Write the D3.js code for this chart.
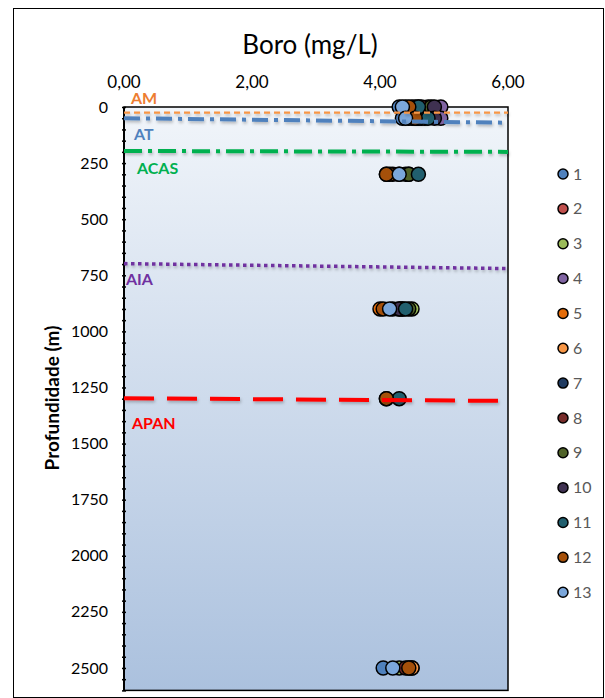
<!DOCTYPE html>
<html><head><meta charset="utf-8">
<script src="https://cdn.jsdelivr.net/npm/d3@7"></script>
<style>body{margin:0;background:#fff}svg{display:block}</style>
</head><body><svg id="c" width="605" height="698"></svg>
<script>
// ---- data ----
const depths = [0, 50, 300, 900, 1300, 2500];
const seriesNames = ["1","2","3","4","5","6","7","8","9","10","11","12","13"];
const s1  = [4.30, 4.35, 4.30, 4.20, null, 4.05];
const s2  = [4.55, 4.60, 4.20, 4.35, null, 4.45];
const s3  = [4.60, 4.65, 4.45, 4.50, null, 4.30];
const s4  = [4.95, 4.95, null, null, null, null];
const s5  = [4.50, 4.50, 4.15, 4.00, 4.10, 4.50];
const s6  = [4.75, 4.70, null, null, null, 4.50];
const s7  = [4.40, 4.45, 4.40, 4.30, null, null];
const s8  = [4.65, 4.55, 4.10, 4.35, null, 4.40];
const s9  = [4.80, 4.60, 4.45, 4.45, null, null];
const s10 = [4.85, 4.85, null, 4.30, null, null];
const s11 = [4.60, 4.75, 4.60, 4.40, 4.30, null];
const s12 = [4.45, 4.55, 4.10, 4.05, 4.10, 4.45];
const s13 = [4.35, 4.40, 4.30, 4.15, null, 4.20];
const seriesValues = [s1,s2,s3,s4,s5,s6,s7,s8,s9,s10,s11,s12,s13];
const seriesColors = ["#4F81BD","#C0504D","#9BBB59","#8064A2","#E46C0A","#F79646","#1F3A60","#772C2A","#4F6228","#3F3151","#215F6E","#A5500A","#7BA7DB"];

const xTicks = [0, 2, 4, 6];
const yTicks = [0,250,500,750,1000,1250,1500,1750,2000,2250,2500];

const layerNames = ["AM","AT","ACAS","AIA","APAN"];
const layerDepthStart = [25, 50, 196, 698, 1298];
const layerDepthEnd   = [25, 70, 200, 720, 1310];
const layerColors = ["#F79646","#4F81BD","#00B050","#7030A0","#FF0000"];
const layerLabelColors = ["#ED7D31","#4F81BD","#00B050","#7030A0","#FF0000"];

// ---- drawing ----
const svg = d3.select("#c");
const font = "Lato, 'Open Sans', sans-serif";
const x = d3.scaleLinear().domain([0, 6]).range([124, 508]);
const y = d3.scaleLinear().domain([0, 2600]).range([107, 690.4]);

const defs = svg.append("defs");
const g = defs.append("linearGradient").attr("id","bg").attr("x1",0).attr("y1",0).attr("x2",0).attr("y2",1);
g.append("stop").attr("offset","0%").attr("stop-color","#f1f5fa");
g.append("stop").attr("offset","100%").attr("stop-color","#abc1de");
const f = defs.append("filter").attr("id","sh").attr("filterUnits","userSpaceOnUse")
  .attr("x",0).attr("y",0).attr("width",605).attr("height",698);
f.append("feDropShadow").attr("dx",1).attr("dy",2).attr("stdDeviation",1.5).attr("flood-color","#000").attr("flood-opacity",0.25);

// chart border
svg.append("rect").attr("x",13.5).attr("y",8.5).attr("width",590).attr("height",689).attr("fill","none").attr("stroke","#000").attr("stroke-width",1);

// plot area
svg.append("rect").attr("x",x(0)).attr("y",y(0)).attr("width",x(6)-x(0)).attr("height",y(2600)-y(0)).attr("fill","url(#bg)");

// title
svg.append("text").attr("x",310).attr("y",54).attr("text-anchor","middle").attr("font-family",font).attr("font-size",26).attr("fill","#000").text("Boro (mg/L)");

// x axis labels (top)
svg.selectAll(".xl").data(xTicks).enter().append("text")
  .attr("x",d=>x(d)).attr("y",88).attr("text-anchor","middle").attr("font-family",font).attr("font-size",17).attr("fill","#000")
  .text(d=>d3.format(".2f")(d).replace(".",","));

// y axis labels
svg.selectAll(".yl").data(yTicks).enter().append("text")
  .attr("x",108).attr("y",d=>y(d)).attr("dy","0.35em").attr("text-anchor","end").attr("font-family",font).attr("font-size",16).attr("fill","#000")
  .text(d=>d);

// y axis title
svg.append("text").attr("transform","translate(59,398) rotate(-90)").attr("text-anchor","middle").attr("font-family",font).attr("font-weight","bold").attr("font-size",19).attr("fill","#000").text("Profundidade (m)");

// plot border + ticks
svg.append("rect").attr("x",x(0)).attr("y",y(0)).attr("width",x(6)-x(0)).attr("height",y(2600)-y(0)).attr("fill","none").attr("stroke","#000").attr("stroke-width",1.5);
svg.append("line").attr("x1",x(0)).attr("x2",x(0)).attr("y1",y(0)).attr("y2",y(2600)).attr("stroke","#000").attr("stroke-width",2);
const yAxis = d3.axisLeft(y).tickValues(d3.range(0, 2601, 50)).tickSize(4).tickFormat("");
const ya = svg.append("g").attr("transform",`translate(${x(0)+2},0)`).call(yAxis);
ya.select(".domain").remove();
ya.selectAll("line").attr("stroke","#000").attr("stroke-width",1.5);

// points
seriesValues.forEach((vals,si)=>{
  const pts = depths.map((d,k)=>({d:d,v:vals[k]})).filter(p=>p.v!==null);
  svg.append("g").selectAll("circle").data(pts).enter().append("circle")
    .attr("cx",p=>x(p.v)).attr("cy",p=>y(p.d)).attr("r",7)
    .attr("fill",seriesColors[si]).attr("stroke","#000").attr("stroke-width",1.5);
});

// layer lines (drawn over the points)
const dashes = ["6,4","16,6,4,6","18,6,4,6","3.5,3.5","30,13"];
const widths = [2.2, 4, 4, 3.5, 4];
layerNames.forEach((n,i)=>{
  svg.append("line").attr("x1",x(0)).attr("x2",x(6)).attr("y1",y(layerDepthStart[i])).attr("y2",y(layerDepthEnd[i]))
    .attr("stroke",layerColors[i]).attr("stroke-width",widths[i]).attr("stroke-dasharray",dashes[i]).attr("filter","url(#sh)");
});

// layer labels
const labelPos = [[131,104],[134,140],[137,174],[126,285],[132,429]];
layerNames.forEach((n,i)=>{
  svg.append("text").attr("x",labelPos[i][0]).attr("y",labelPos[i][1]).attr("font-family",font).attr("font-weight","bold").attr("font-size",16).attr("fill",layerLabelColors[i]).text(n);
});

// legend
const lg = svg.append("g");
seriesNames.forEach((n,i)=>{
  const yy = 174 + i*34.85;
  lg.append("circle").attr("cx",563).attr("cy",yy).attr("r",5).attr("fill",seriesColors[i]).attr("stroke","#000").attr("stroke-width",1.5);
  lg.append("text").attr("x",573).attr("y",yy).attr("dy","0.35em").attr("font-family",font).attr("font-size",16).attr("fill","#595959").text(n);
});
</script></body></html>
